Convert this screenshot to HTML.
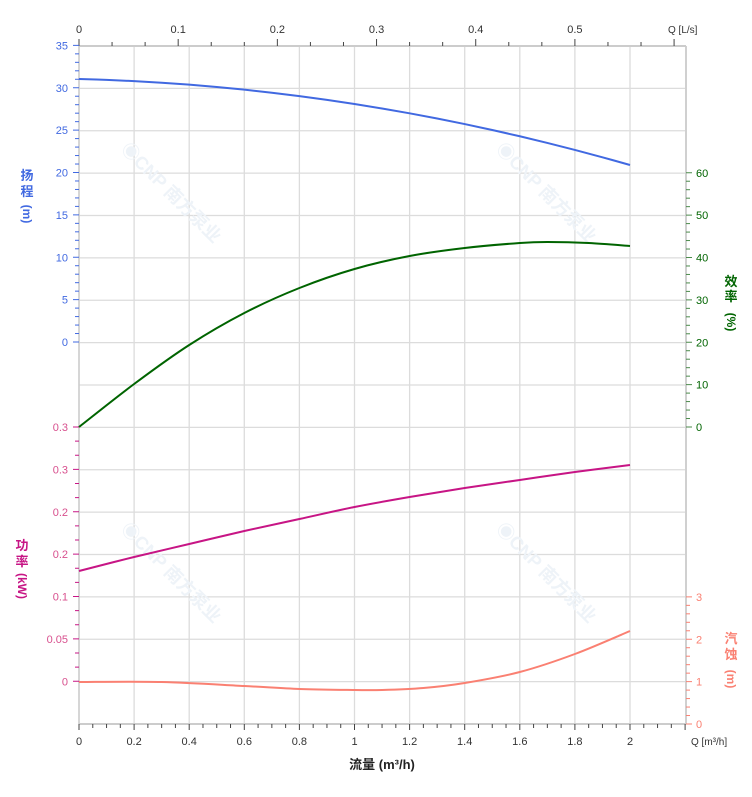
<!DOCTYPE html>
<html><head><meta charset="utf-8"><style>
html,body{margin:0;padding:0;background:#fff;width:752px;height:797px;overflow:hidden}
svg{display:block;font-family:"Liberation Sans","Noto Sans CJK SC",sans-serif}
</style></head><body>
<svg id="s" width="752" height="797" viewBox="0 0 752 797" xmlns="http://www.w3.org/2000/svg"></svg>
<script>
const s=document.getElementById('s');let h='';
const X0=79,XS=275.5,YT=46,G=42.375;
const X=q=>X0+q*XS;
for(let i=0;i<=16;i++){const y=YT+i*G;h+=`<line x1="${X0}" y1="${y}" x2="686" y2="${y}" stroke="#dcdcdc" stroke-width="1.3"/>`;}
for(let i=0;i<=10;i++){const x=X(i*0.2);h+=`<line x1="${x}" y1="${YT}" x2="${x}" y2="724" stroke="#dcdcdc" stroke-width="1.3"/>`;}
h+=`<line x1="686" y1="${YT}" x2="686" y2="724" stroke="#d0d0d0" stroke-width="2"/>`;
h+=`<line x1="${X0}" y1="${YT}" x2="686" y2="${YT}" stroke="#ccc" stroke-width="2"/>`;
h+=`<line x1="${X0}" y1="724" x2="686" y2="724" stroke="#ccc" stroke-width="2"/>`;
h+=`<line x1="${X0}" y1="${YT}" x2="${X0}" y2="724" stroke="#ccc" stroke-width="1.5"/>`;
[[120,150],[495,150],[120,530],[495,530]].forEach(([x,y])=>{h+=`<text x="${x}" y="${y}" transform="rotate(45 ${x} ${y})" font-size="18" font-weight="bold" fill="#eef3f8">◉CNP 南方泵业</text>`;});
for(let i=0;i<=44;i++){const x=X(i*0.05);h+=`<line x1="${x}" y1="724" x2="${x}" y2="${i%4==0?730:728}" stroke="#444"/>`;}
for(let i=0;i<=10;i++){const v=+(i*0.2).toFixed(1);h+=`<text x="${X(i*0.2)}" y="745" font-size="11" fill="#333" text-anchor="middle">${v}</text>`;}
h+=`<text x="691" y="745" font-size="10" fill="#333">Q [m³/h]</text>`;
h+=`<text x="382" y="769" font-size="13" font-weight="bold" fill="#222" text-anchor="middle">流量 (m³/h)</text>`;
for(let i=0;i<=18;i++){const x=X(i*0.1/3*3.6);if(x>686)break;h+=`<line x1="${x}" y1="${YT}" x2="${x}" y2="${i%3==0?39:42}" stroke="#444"/>`;}
for(let i=0;i<=5;i++){h+=`<text x="${X(i*0.36)}" y="33" font-size="11" fill="#333" text-anchor="middle">${i==0?0:(i/10)}</text>`;}
h+=`<text x="668" y="33" font-size="10" fill="#333">Q [L/s]</text>`;
for(let i=0;i<=35;i++){const y=342-i*G/5;h+=`<line x1="${X0}" y1="${y}" x2="${i%5==0?73:75}" y2="${y}" stroke="#4169e1"/>`;}
for(let i=0;i<=7;i++){h+=`<text x="68" y="${342-i*G+4}" font-size="11" fill="#4169e1" text-anchor="end">${i*5}</text>`;}
h+=`<text x="27" y="180" font-size="13" font-weight="bold" fill="#4169e1" text-anchor="middle">扬</text><text x="27" y="196" font-size="13" font-weight="bold" fill="#4169e1" text-anchor="middle">程</text><text x="27" y="218" font-size="12" font-weight="bold" fill="#4169e1" text-anchor="middle" transform="rotate(90 27 214)">(m)</text>`;
for(let i=0;i<=18;i++){const y=427+i*G/3;h+=`<line x1="${X0}" y1="${y}" x2="${i%3==0?73:75}" y2="${y}" stroke="#c71585"/>`;}
['0.3','0.3','0.2','0.2','0.1','0.05','0'].forEach((t,i)=>{h+=`<text x="68" y="${427+i*G+4}" font-size="11" fill="#d8508e" text-anchor="end">${t}</text>`;});
h+=`<text x="22" y="550" font-size="13" font-weight="bold" fill="#c71585" text-anchor="middle">功</text><text x="22" y="566" font-size="13" font-weight="bold" fill="#c71585" text-anchor="middle">率</text><text x="22" y="590" font-size="12" font-weight="bold" fill="#c71585" text-anchor="middle" transform="rotate(90 22 586)">(kW)</text>`;
for(let i=0;i<=30;i++){const y=427-i*G/5;h+=`<line x1="686" y1="${y}" x2="${i%5==0?692:690}" y2="${y}" stroke="#4a8a4a"/>`;}
for(let i=0;i<=6;i++){h+=`<text x="696" y="${427-i*G+4}" font-size="11" fill="#006400">${i*10}</text>`;}
h+=`<text x="731" y="286" font-size="13" font-weight="bold" fill="#006400" text-anchor="middle">效</text><text x="731" y="301" font-size="13" font-weight="bold" fill="#006400" text-anchor="middle">率</text><text x="731" y="326" font-size="12" font-weight="bold" fill="#006400" text-anchor="middle" transform="rotate(90 731 322)">(%)</text>`;
for(let i=0;i<=15;i++){const y=724-i*G/5;h+=`<line x1="686" y1="${y}" x2="${i%5==0?692:690}" y2="${y}" stroke="#fa8072"/>`;}
for(let i=0;i<=3;i++){h+=`<text x="696" y="${724-i*G+4}" font-size="11" fill="#fa8072">${i}</text>`;}
h+=`<text x="731" y="643" font-size="13" font-weight="bold" fill="#fa8072" text-anchor="middle">汽</text><text x="731" y="659" font-size="13" font-weight="bold" fill="#fa8072" text-anchor="middle">蚀</text><text x="731" y="683" font-size="12" font-weight="bold" fill="#fa8072" text-anchor="middle" transform="rotate(90 731 679)">(m)</text>`;
function curve(pts,c){let d='M'+X(pts[0][0])+','+pts[0][1];for(let i=0;i<pts.length-1;i++){const p0=pts[Math.max(0,i-1)],p1=pts[i],p2=pts[i+1],p3=pts[Math.min(pts.length-1,i+2)];const x=a=>X(a[0]);const c1x=x(p1)+(x(p2)-x(p0))/6,c1y=p1[1]+(p2[1]-p0[1])/6,c2x=x(p2)-(x(p3)-x(p1))/6,c2y=p2[1]-(p3[1]-p1[1])/6;d+=` C${c1x},${c1y} ${c2x},${c2y} ${x(p2)},${p2[1]}`;}h+=`<path d="${d}" fill="none" stroke="${c}" stroke-width="2"/>`;}
let hp=[];for(let i=0;i<=20;i++){const q=i*0.1;hp.push([q,79+7*q+18*q*q]);}
curve(hp,'#4169e1');
curve([[0,427],[0.2,384],[0.4,345],[0.6,313],[0.8,288],[1,269],[1.2,256],[1.4,248],[1.6,243],[1.7,242],[1.85,243],[2,246]],'#006400');
curve([[0,571],[0.2,557],[0.4,544],[0.6,531],[0.8,519],[1,507],[1.2,497],[1.4,488],[1.6,480],[1.8,472],[2,465]],'#c71585');
curve([[0,682],[0.3,682],[0.6,686],[0.8,689],[1,690],[1.1,690],[1.25,688],[1.4,683],[1.6,672],[1.8,654],[2,631]],'#fa8072');
s.innerHTML=h;
</script>
</body></html>
